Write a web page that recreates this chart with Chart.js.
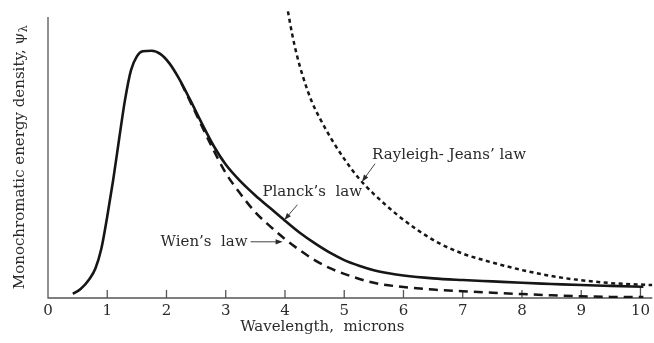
<!DOCTYPE html>
<html>
<head>
<meta charset="utf-8">
<script src="https://cdn.jsdelivr.net/npm/chart.js@4.4.1/dist/chart.umd.min.js"></script>
<style>
  html, body { margin: 0; padding: 0; background: #fff; }
  #wrap { width: 654px; height: 343px; position: relative; }
</style>
</head>
<body>
<div id="wrap"><canvas id="blackbody"></canvas></div>
<script>
// wavelength in microns, energy density in plot units (top of the y axis = 100)
const planckX = [0.42, 0.55, 0.7, 0.8, 0.9, 1.0, 1.1, 1.2, 1.3, 1.4, 1.5, 1.6, 1.75, 1.9, 2.05, 2.2, 2.4, 2.6, 2.8, 3.0, 3.25, 3.5, 3.75, 4.0, 4.25, 4.5, 4.75, 5.0, 5.25, 5.5, 5.75, 6.0, 6.5, 7.0, 7.5, 8.0, 8.5, 9.0, 9.5, 10.05];
const planckY = [1.5, 3.2, 6.8, 10.5, 17.5, 29, 42, 56.5, 70.5, 81, 86, 87.8, 88, 86.8, 83.5, 78.5, 70.5, 62, 54, 47.5, 41.5, 36.5, 32, 27.5, 23.2, 19.5, 16.2, 13.5, 11.5, 9.9, 8.8, 8.0, 7.0, 6.4, 5.9, 5.4, 5.0, 4.6, 4.3, 4.0];

const wienX = [2.25, 2.5, 2.75, 3.0, 3.25, 3.5, 3.75, 4.0, 4.25, 4.5, 4.75, 5.0, 5.5, 6.0, 6.5, 7.0, 7.5, 8.0, 8.5, 9.0, 9.5, 10.05];
const wienY = [76.5, 65.5, 54.5, 44.5, 37, 30.5, 25.5, 21, 17, 13.5, 10.7, 8.6, 5.4, 3.9, 3.0, 2.4, 1.9, 1.4, 0.95, 0.6, 0.4, 0.35];

const jeansX = [4.05, 4.12, 4.2, 4.3, 4.45, 4.6, 4.8, 5.0, 5.25, 5.5, 5.9, 6.25, 6.6, 7.0, 7.35, 7.7, 8.05, 8.45, 8.85, 9.5, 10.2];
const jeansY = [102, 94, 86.5, 79, 70, 63.5, 56, 49.5, 42.5, 37, 29.5, 24, 19.5, 15.8, 13.5, 11.5, 9.7, 8.0, 6.7, 5.3, 4.6];

const xTicks = [0, 1, 2, 3, 4, 5, 6, 7, 8, 9, 10];

const INK = '#161616';
const TEXT = '#2a2a2a';
const AXIS = '#555';
const SERIF = '"DejaVu Serif", "Liberation Serif", serif';
const yTop = 100;

function pairs(xs, ys) {
  return xs.map((v, i) => ({ x: v, y: ys[i] }));
}

// curve labels and their arrows, placed in data units
const notes = [
  { text: "Rayleigh- Jeans\u2019 law", at: [5.47, 50.9], from: [5.52, 47.8], to: [5.30, 41.4] },
  { text: "Planck\u2019s  law", at: [3.62, 37.7], from: [4.21, 33.2], to: [3.99, 27.8] },
  { text: "Wien\u2019s  law", at: [1.90, 19.9], from: [3.42, 20.0], to: [3.96, 20.0] }
];

function arrow(ctx, x1, y1, x2, y2) {
  const a = Math.atan2(y2 - y1, x2 - x1);
  ctx.beginPath();
  ctx.moveTo(x1, y1);
  ctx.lineTo(x2 - 5 * Math.cos(a), y2 - 5 * Math.sin(a));
  ctx.stroke();
  ctx.beginPath();
  ctx.moveTo(x2, y2);
  ctx.lineTo(x2 - 7 * Math.cos(a) + 2.6 * Math.sin(a), y2 - 7 * Math.sin(a) - 2.6 * Math.cos(a));
  ctx.lineTo(x2 - 7 * Math.cos(a) - 2.6 * Math.sin(a), y2 - 7 * Math.sin(a) + 2.6 * Math.cos(a));
  ctx.closePath();
  ctx.fill();
}

const decor = {
  id: 'decor',
  beforeDatasetsDraw(chart) {
    const { ctx, scales: { x, y }, chartArea } = chart;
    const x0 = x.getPixelForValue(0), y0 = y.getPixelForValue(0);
    ctx.save();
    ctx.strokeStyle = AXIS;
    ctx.lineWidth = 1.3;
    ctx.beginPath();
    ctx.moveTo(x0, y.getPixelForValue(yTop));
    ctx.lineTo(x0, y0);
    ctx.lineTo(chartArea.right, y0);
    xTicks.forEach(v => {
      if (v === 0) return;
      const px = x.getPixelForValue(v);
      ctx.moveTo(px, y0);
      ctx.lineTo(px, y0 - (v === 10 ? 11 : 8));
    });
    ctx.stroke();
    ctx.restore();
  },
  afterDraw(chart) {
    const { ctx, scales: { x, y } } = chart;
    const y0 = y.getPixelForValue(0);
    ctx.save();
    ctx.fillStyle = TEXT;
    ctx.strokeStyle = '#444';
    ctx.lineWidth = 1;
    ctx.font = '15px ' + SERIF;
    ctx.textBaseline = 'middle';
    ctx.textAlign = 'left';
    notes.forEach(n => {
      ctx.fillText(n.text, x.getPixelForValue(n.at[0]), y.getPixelForValue(n.at[1]));
      arrow(ctx, x.getPixelForValue(n.from[0]), y.getPixelForValue(n.from[1]),
                 x.getPixelForValue(n.to[0]), y.getPixelForValue(n.to[1]));
    });

    // x axis title
    ctx.font = '15px ' + SERIF;
    ctx.textAlign = 'center';
    ctx.fillText('Wavelength,  microns', x.getPixelForValue(4.63), y0 + 29);

    // y axis title with subscript lambda
    const main = 'Monochromatic energy density, \u03c8';
    const sub = '\u03bb';
    ctx.font = '15px ' + SERIF;
    const w1 = ctx.measureText(main).width;
    ctx.font = '11px ' + SERIF;
    const w2 = ctx.measureText(sub).width;
    ctx.translate(20, (y0 + y.getPixelForValue(yTop)) / 2);
    ctx.rotate(-Math.PI / 2);
    ctx.textAlign = 'left';
    ctx.font = '15px ' + SERIF;
    ctx.fillText(main, -(w1 + w2) / 2, 0);
    ctx.font = '11px ' + SERIF;
    ctx.fillText(sub, -(w1 + w2) / 2 + w1 + 0.5, 4);
    ctx.restore();
  }
};

new Chart(document.getElementById('blackbody'), {
  type: 'line',
  data: {
    datasets: [
      {
        label: 'Rayleigh-Jeans',
        data: pairs(jeansX, jeansY),
        borderColor: INK,
        borderWidth: 2.5,
        borderDash: [4, 3.5],
        pointRadius: 0,
        cubicInterpolationMode: 'monotone'
      },
      {
        label: 'Wien',
        data: pairs(wienX, wienY),
        borderColor: INK,
        borderWidth: 2.5,
        borderDash: [9, 6],
        pointRadius: 0,
        cubicInterpolationMode: 'monotone'
      },
      {
        label: 'Planck',
        data: pairs(planckX, planckY),
        borderColor: INK,
        borderWidth: 2.6,
        pointRadius: 0,
        cubicInterpolationMode: 'monotone'
      }
    ]
  },
  options: {
    responsive: true,
    maintainAspectRatio: false,
    animation: false,
    layout: { padding: { left: 48, right: 0, top: 8, bottom: 0 } },
    plugins: {
      legend: { display: false },
      tooltip: { enabled: false }
    },
    scales: {
      x: {
        type: 'linear',
        min: 0,
        max: 10.2,
        grid: { display: false, drawTicks: false, tickLength: 0 },
        border: { display: false },
        afterBuildTicks: axis => { axis.ticks = xTicks.map(v => ({ value: v })); },
        afterFit: axis => { axis.height = 45; },
        ticks: {
          padding: 4,
          color: TEXT,
          font: { family: SERIF, size: 15 },
          maxRotation: 0
        }
      },
      y: {
        display: false,
        min: 0,
        max: 103.2
      }
    }
  },
  plugins: [decor]
});
</script>
</body>
</html>
